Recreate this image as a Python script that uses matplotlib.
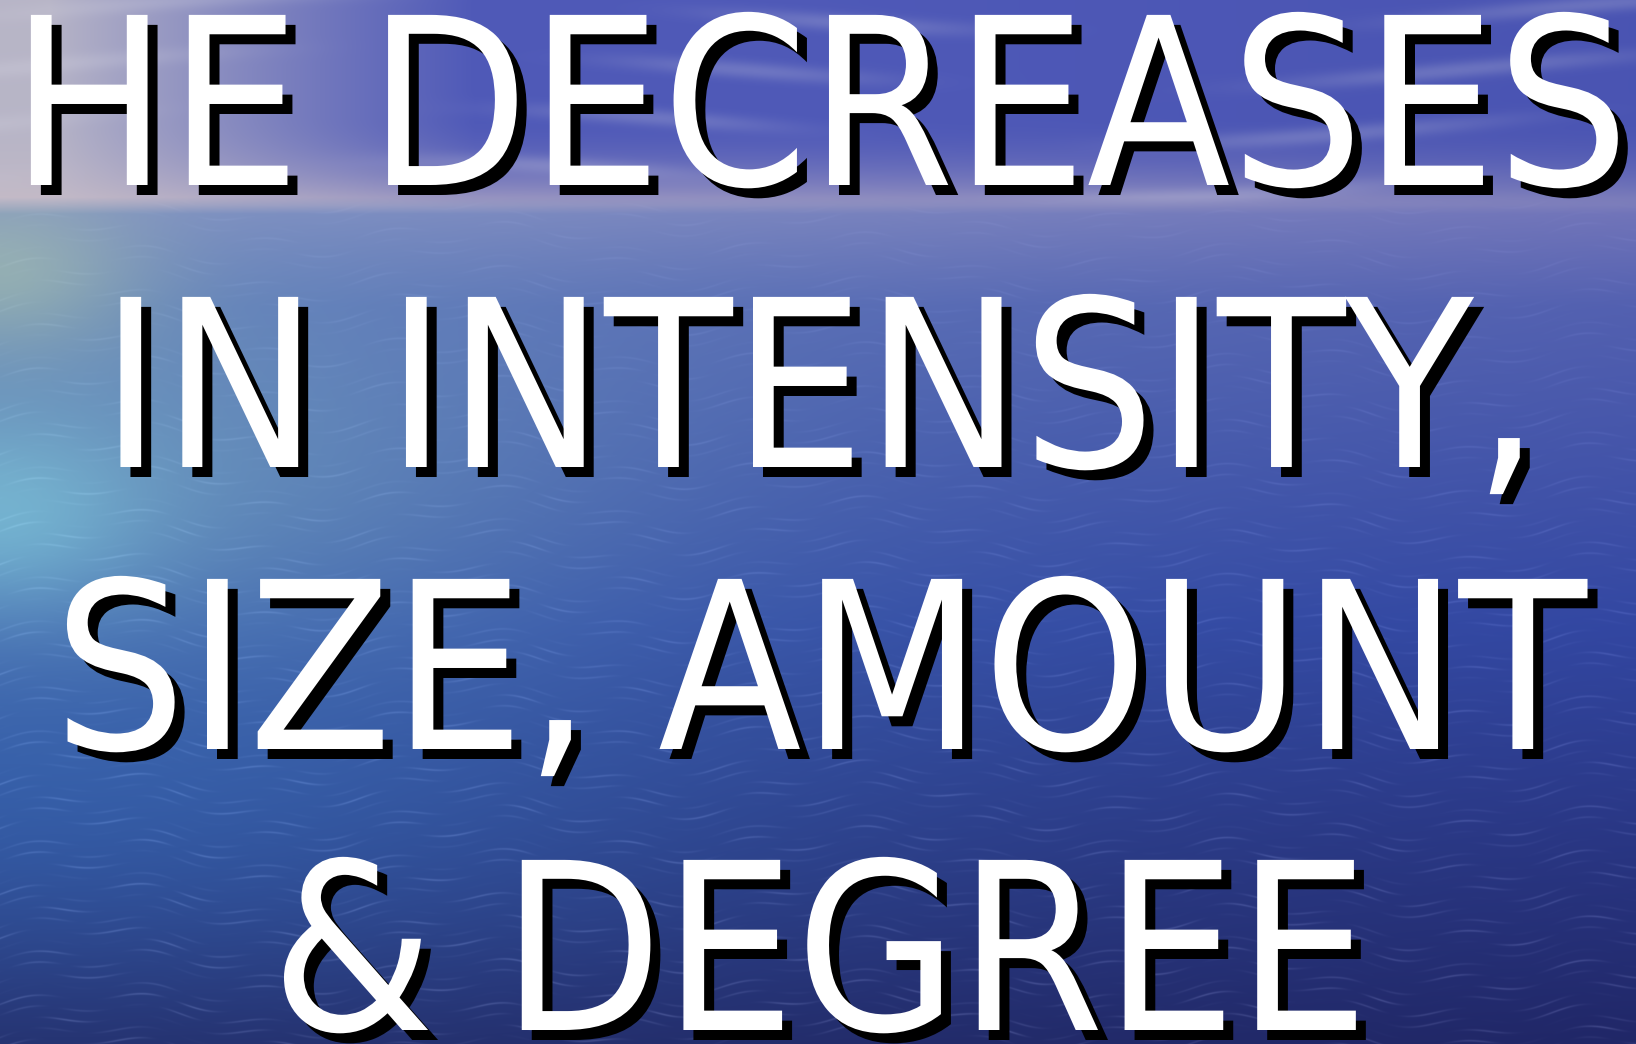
import numpy as np
import matplotlib
matplotlib.use("Agg")
import matplotlib.pyplot as plt
import matplotlib.patheffects as pe

# ---- content ----
lines = ["HE DECREASES", "IN INTENSITY,", "SIZE, AMOUNT", "& DEGREE"]
baselines_px = [185, 467, 749, 1030]

W, H = 1636, 1044
DPI = 100

# ---- background (sky + ocean) ----
yy, xx = np.mgrid[0:H, 0:W].astype(float)
u = xx / W
v = yy / H
hz = 205.0 / H

def mix(a, b, t):
    t = np.clip(t, 0, 1)[..., None]
    return np.asarray(a) * (1 - t) + np.asarray(b) * t

def gauss(cu, su, cv, sv):
    return np.exp(-((u - cu) / su) ** 2) * np.exp(-((v - cv) / sv) ** 2)

# sky
t_sky = np.clip((u - 0.03) / 0.26, 0, 1) ** 0.9
sky = mix((0.72, 0.71, 0.78), (0.31, 0.35, 0.72), t_sky)
sky = mix(sky, (0.27, 0.31, 0.68), np.clip((u - 0.5) / 0.5, 0, 1) * 0.5)
# brighter haze near the horizon
haze = np.clip((v - 0.11) / (hz - 0.11), 0, 1) ** 2
sky = mix(sky, (0.79, 0.74, 0.78), haze * (0.8 - 0.35 * u))
# soft cloud streaks
streak = 0.5 + 0.5 * np.sin(2 * np.pi * (v * 19 + 0.35 * np.sin(u * 7.0)))
streak2 = 0.5 + 0.5 * np.sin(2 * np.pi * (u * 2.3 + v * 3.0))
cloud = (streak ** 4) * (streak2 ** 2) * 0.22
sky = mix(sky, (0.85, 0.85, 0.90), cloud)

# ocean
s = np.clip((v - hz) / (1 - hz), 0, 1)
c0 = np.array((0.50, 0.55, 0.76))
c1 = np.array((0.36, 0.45, 0.72))
c2 = np.array((0.22, 0.33, 0.66))
c3 = np.array((0.14, 0.18, 0.42))
ocean = np.where((s < 0.12)[..., None], mix(c0, c1, s / 0.12),
                 np.where((s < 0.5)[..., None], mix(c1, c2, (s - 0.12) / 0.38),
                          mix(c2, c3, (s - 0.5) / 0.5)))
# right side slightly more violet/darker
ocean = mix(ocean, ocean * np.array((0.88, 0.80, 0.95)), np.clip(u - 0.2, 0, 1))
# left teal-grey glow
ocean = mix(ocean, (0.48, 0.68, 0.76), gauss(0, 0.35, 0.46, 0.22) * 0.62)
# green tint just below the horizon at far left
ocean = mix(ocean, (0.68, 0.78, 0.68), gauss(0, 0.09, 0.26, 0.08) * 0.6)
# cyan glow at far left
ocean = mix(ocean, (0.52, 0.82, 0.88), gauss(0, 0.09, 0.50, 0.09) * 0.6)
# bluer lower-left water
ocean = mix(ocean, (0.21, 0.42, 0.72), gauss(0, 0.42, 0.76, 0.18) * 0.55)
# subtle ripples
rip = (0.5 + 0.5 * np.sin(2 * np.pi * (yy / 11.0 + 0.8 * np.sin(xx / 61.0) + 0.4 * np.sin(xx / 19.0))))
rip2 = (0.5 + 0.5 * np.sin(2 * np.pi * (xx / 97.0 + yy / 37.0))) * \
       (0.5 + 0.5 * np.sin(2 * np.pi * (xx / 151.0 - yy / 53.0)))
ocean = ocean + ((rip ** 10) * rip2 * 0.09 * (0.2 + s))[..., None]

# horizon blend
hb = np.clip((v - (hz - 0.008)) / 0.016, 0, 1)
img = np.clip(mix(sky, ocean, hb), 0, 1)

# ---- figure ----
fig = plt.figure(figsize=(W / DPI, H / DPI), dpi=DPI)
ax = fig.add_axes([0, 0, 1, 1])
ax.imshow(img, extent=(0, W, H, 0), aspect="auto", interpolation="bilinear")
ax.set_xlim(0, W)
ax.set_ylim(H, 0)
ax.axis("off")

shadow = [pe.SimplePatchShadow(offset=(7.2, -7.2), shadow_rgbFace="black", alpha=1.0),
          pe.Normal()]
for txt, yb in zip(lines, baselines_px):
    ax.text(W / 2 + 2, yb, txt, ha="center", va="baseline", color="white",
            fontsize=168, family="DejaVu Sans", stretch="condensed",
            path_effects=shadow)

fig.savefig("out.png", dpi=DPI)
